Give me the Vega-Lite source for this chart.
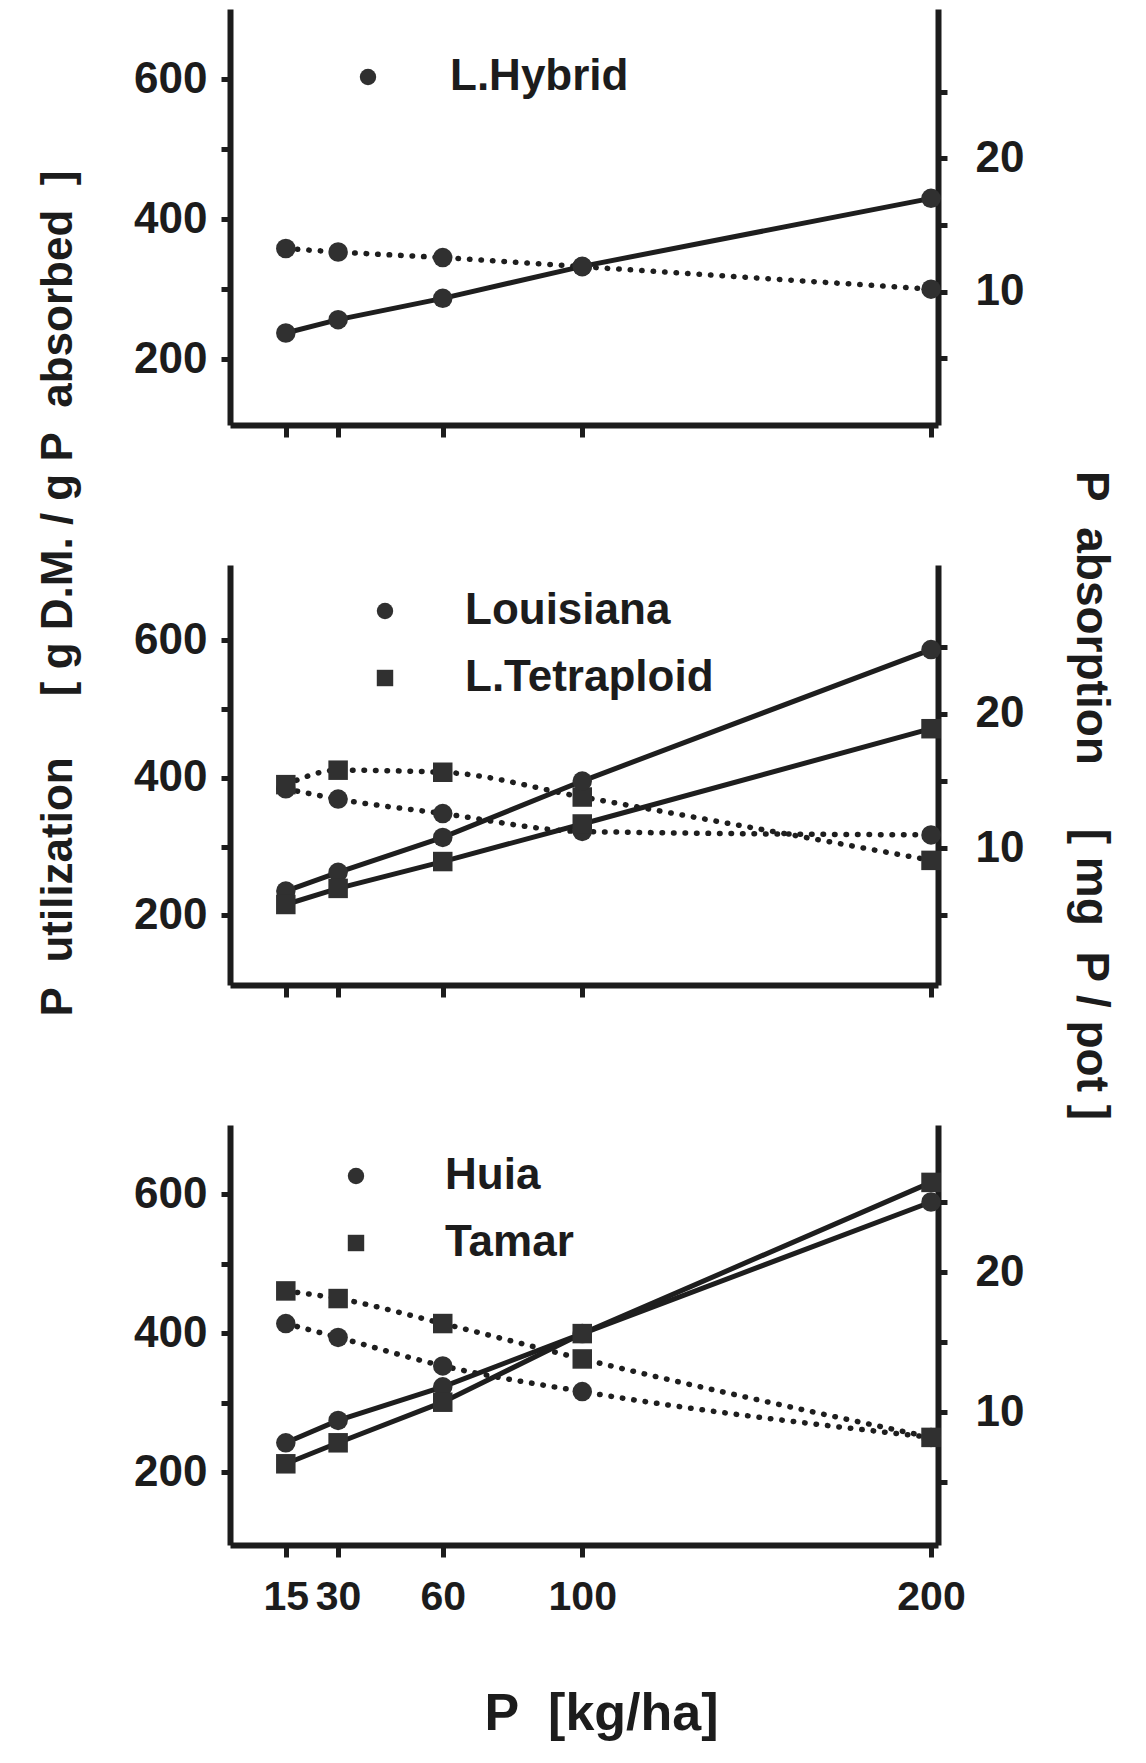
{
  "$schema": "https://vega.github.io/schema/vega-lite/v6.json",
  "background": "white",
  "padding": {"left": 35, "top": 9, "right": 10, "bottom": 10},
  "spacing": 140,
  "bounds": "flush",
  "config": {
    "view": {"stroke": null},
    "axis": {
      "grid": false,
      "labelFont": "Liberation Sans",
      "labelFontWeight": "bold",
      "labelFontSize": 44,
      "labelColor": "#1c1c1c",
      "labelOverlap": false,
      "domainColor": "#1c1c1c",
      "domainWidth": 6,
      "tickColor": "#1c1c1c",
      "tickWidth": 5,
      "tickSize": 9,
      "titleColor": "#1c1c1c",
      "titleFontWeight": "bold"
    },
    "legend": {
      "labelFont": "Liberation Sans",
      "labelFontWeight": "bold",
      "labelFontSize": 44,
      "labelColor": "#1c1c1c",
      "labelLimit": 0,
      "symbolSize": 270,
      "symbolFillColor": "#111111",
      "symbolStrokeWidth": 0,
      "labelOffset": 60,
      "rowPadding": 23
    }
  },
  "resolve": {"scale": {"shape": "independent"}, "legend": {"shape": "independent"}},
  "datasets": {
    "p1": [
      {"variety": "L.Hybrid", "P": 15, "util": 358, "abs": 6.9},
      {"variety": "L.Hybrid", "P": 30, "util": 353, "abs": 7.9},
      {"variety": "L.Hybrid", "P": 60, "util": 345, "abs": 9.5},
      {"variety": "L.Hybrid", "P": 100, "util": 332, "abs": 11.9},
      {"variety": "L.Hybrid", "P": 200, "util": 300, "abs": 17.0}
    ],
    "p2": [
      {"variety": "Louisiana", "P": 15, "util": 384, "abs": 6.8},
      {"variety": "Louisiana", "P": 30, "util": 369, "abs": 8.2},
      {"variety": "Louisiana", "P": 60, "util": 348, "abs": 10.8},
      {"variety": "Louisiana", "P": 100, "util": 322, "abs": 15.0},
      {"variety": "Louisiana", "P": 200, "util": 317, "abs": 24.8},
      {"variety": "L.Tetraploid", "P": 15, "util": 390, "abs": 5.8},
      {"variety": "L.Tetraploid", "P": 30, "util": 411, "abs": 7.0},
      {"variety": "L.Tetraploid", "P": 60, "util": 408, "abs": 9.0},
      {"variety": "L.Tetraploid", "P": 100, "util": 372, "abs": 11.8},
      {"variety": "L.Tetraploid", "P": 200, "util": 280, "abs": 18.9}
    ],
    "p3": [
      {"variety": "Huia", "P": 15, "util": 414, "abs": 7.8},
      {"variety": "Huia", "P": 30, "util": 394, "abs": 9.4},
      {"variety": "Huia", "P": 60, "util": 353, "abs": 11.8},
      {"variety": "Huia", "P": 100, "util": 316, "abs": 15.6},
      {"variety": "Huia", "P": 200, "util": 250, "abs": 25.0},
      {"variety": "Tamar", "P": 15, "util": 461, "abs": 6.3},
      {"variety": "Tamar", "P": 30, "util": 450, "abs": 7.8},
      {"variety": "Tamar", "P": 60, "util": 414, "abs": 10.7},
      {"variety": "Tamar", "P": 100, "util": 363, "abs": 15.6},
      {"variety": "Tamar", "P": 200, "util": 250, "abs": 26.4}
    ]
  },
  "vconcat": [
    {
      "width": 708, "height": 416,
      "data": {"name": "p1"},
      "layer": [
        {"layer": [
          {"mark": {"type": "line", "interpolate": "monotone", "strokeDash": [0.5, 11], "strokeCap": "round", "strokeWidth": 5.5, "color": "#1e1e1e"},
           "encoding": {
             "x": {"field": "P", "type": "quantitative", "scale": {"domain": [-1, 202], "nice": false, "zero": false}, "axis": {"values": [15, 30, 60, 100, 200], "labels": false, "title": null, "tickSize": 12}},
             "y": {"field": "util", "type": "quantitative", "scale": {"domain": [106, 700], "nice": false, "zero": false}, "axis": {"orient": "left", "values": [200, 300, 400, 500, 600], "labelExpr": "datum.value % 200 == 0 ? datum.label : ''", "title": null, "labelPadding": 14}},
             "detail": {"field": "variety"}}},
          {"mark": {"type": "point", "filled": true, "size": 380, "color": "#303030", "opacity": 1},
           "encoding": {
             "x": {"field": "P", "type": "quantitative"},
             "y": {"field": "util", "type": "quantitative"},
             "shape": {"field": "variety", "type": "nominal", "scale": {"domain": ["L.Hybrid"], "range": ["circle"]}, "legend": {"orient": "none", "legendX": 116, "legendY": 46, "title": null}}}}
        ]},
        {"layer": [
          {"mark": {"type": "line", "strokeWidth": 5, "color": "#1e1e1e"},
           "encoding": {
             "x": {"field": "P", "type": "quantitative"},
             "y": {"field": "abs", "type": "quantitative", "scale": {"domain": [0, 31.2], "nice": false, "zero": false}, "axis": {"orient": "right", "values": [5, 10, 15, 20, 25], "labelExpr": "datum.value % 10 == 0 ? datum.label : ''", "title": null, "labelPadding": 28}},
             "detail": {"field": "variety"}}},
          {"mark": {"type": "point", "filled": true, "size": 380, "color": "#303030", "opacity": 1},
           "encoding": {
             "x": {"field": "P", "type": "quantitative"},
             "y": {"field": "abs", "type": "quantitative"},
             "shape": {"field": "variety", "type": "nominal", "scale": {"domain": ["L.Hybrid"], "range": ["circle"]}, "legend": {"orient": "none", "legendX": 116, "legendY": 46, "title": null}}}}
        ]}
      ],
      "resolve": {"scale": {"y": "independent"}}
    },
    {
      "width": 708, "height": 420,
      "data": {"name": "p2"},
      "layer": [
        {"layer": [
          {"mark": {"type": "line", "interpolate": "monotone", "strokeDash": [0.5, 11], "strokeCap": "round", "strokeWidth": 5.5, "color": "#1e1e1e"},
           "encoding": {
             "x": {"field": "P", "type": "quantitative", "scale": {"domain": [-1, 202], "nice": false, "zero": false}, "axis": {"values": [15, 30, 60, 100, 200], "labels": false, "title": null, "tickSize": 12}},
             "y": {"field": "util", "type": "quantitative", "scale": {"domain": [99, 709], "nice": false, "zero": false}, "axis": {"orient": "left", "values": [200, 300, 400, 500, 600], "labelExpr": "datum.value % 200 == 0 ? datum.label : ''", "labelPadding": 14, "title": "P\u00a0\u00a0utilization\u00a0\u00a0\u00a0\u00a0\u00a0[\u00a0g\u00a0D.M.\u00a0/\u00a0g\u00a0P\u00a0\u00a0absorbed\u00a0\u00a0]", "titleFont": "Liberation Sans", "titleFontSize": 44, "titleAngle": 270, "titleAlign": "center", "titleBaseline": "middle", "titleX": -172, "titleY": 28}},
             "detail": {"field": "variety"}}},
          {"mark": {"type": "point", "filled": true, "size": 380, "color": "#303030", "opacity": 1},
           "encoding": {
             "x": {"field": "P", "type": "quantitative"},
             "y": {"field": "util", "type": "quantitative"},
             "shape": {"field": "variety", "type": "nominal", "scale": {"domain": ["Louisiana", "L.Tetraploid"], "range": ["circle", "square"]}, "legend": {"orient": "none", "legendX": 133, "legendY": 24, "title": null, "labelOffset": 58}}}}
        ]},
        {"layer": [
          {"mark": {"type": "line", "strokeWidth": 5, "color": "#1e1e1e"},
           "encoding": {
             "x": {"field": "P", "type": "quantitative"},
             "y": {"field": "abs", "type": "quantitative", "scale": {"domain": [-0.2, 31.1], "nice": false, "zero": false}, "axis": {"orient": "right", "values": [5, 10, 15, 20, 25], "labelExpr": "datum.value % 10 == 0 ? datum.label : ''", "labelPadding": 28, "title": "P\u00a0\u00a0absorption\u00a0\u00a0\u00a0\u00a0\u00a0[\u00a0mg\u00a0\u00a0P\u00a0/\u00a0pot\u00a0]", "titleFont": "Liberation Sans", "titleFontSize": 46, "titleAngle": 90, "titleAlign": "center", "titleBaseline": "middle", "titleX": 152, "titleY": 230}},
             "detail": {"field": "variety"}}},
          {"mark": {"type": "point", "filled": true, "size": 380, "color": "#303030", "opacity": 1},
           "encoding": {
             "x": {"field": "P", "type": "quantitative"},
             "y": {"field": "abs", "type": "quantitative"},
             "shape": {"field": "variety", "type": "nominal", "scale": {"domain": ["Louisiana", "L.Tetraploid"], "range": ["circle", "square"]}, "legend": {"orient": "none", "legendX": 133, "legendY": 24, "title": null, "labelOffset": 58}}}}
        ]}
      ],
      "resolve": {"scale": {"y": "independent"}}
    },
    {
      "width": 708, "height": 420,
      "data": {"name": "p3"},
      "layer": [
        {"layer": [
          {"mark": {"type": "line", "interpolate": "monotone", "strokeDash": [0.5, 11], "strokeCap": "round", "strokeWidth": 5.5, "color": "#1e1e1e"},
           "encoding": {
             "x": {"field": "P", "type": "quantitative", "scale": {"domain": [-1, 202], "nice": false, "zero": false}, "axis": {"values": [15, 30, 60, 100, 200], "labels": true, "labelFontSize": 41, "tickSize": 12, "labelPadding": 20, "title": "P\u00a0\u00a0[kg/ha]", "titleFont": "Liberation Sans", "titleFontSize": 52, "titleX": 371, "titleY": 168, "titleAlign": "center", "titleBaseline": "middle"}},
             "y": {"field": "util", "type": "quantitative", "scale": {"domain": [95, 700], "nice": false, "zero": false}, "axis": {"orient": "left", "values": [200, 300, 400, 500, 600], "labelExpr": "datum.value % 200 == 0 ? datum.label : ''", "title": null, "labelPadding": 14}},
             "detail": {"field": "variety"}}},
          {"mark": {"type": "point", "filled": true, "size": 380, "color": "#303030", "opacity": 1},
           "encoding": {
             "x": {"field": "P", "type": "quantitative"},
             "y": {"field": "util", "type": "quantitative"},
             "shape": {"field": "variety", "type": "nominal", "scale": {"domain": ["Huia", "Tamar"], "range": ["circle", "square"]}, "legend": {"orient": "none", "legendX": 104, "legendY": 29, "title": null, "labelOffset": 67}}}}
        ]},
        {"layer": [
          {"mark": {"type": "line", "strokeWidth": 5, "color": "#1e1e1e"},
           "encoding": {
             "x": {"field": "P", "type": "quantitative"},
             "y": {"field": "abs", "type": "quantitative", "scale": {"domain": [0.5, 30.5], "nice": false, "zero": false}, "axis": {"orient": "right", "values": [5, 10, 15, 20, 25], "labelExpr": "datum.value % 10 == 0 ? datum.label : ''", "title": null, "labelPadding": 28}},
             "detail": {"field": "variety"}}},
          {"mark": {"type": "point", "filled": true, "size": 380, "color": "#303030", "opacity": 1},
           "encoding": {
             "x": {"field": "P", "type": "quantitative"},
             "y": {"field": "abs", "type": "quantitative"},
             "shape": {"field": "variety", "type": "nominal", "scale": {"domain": ["Huia", "Tamar"], "range": ["circle", "square"]}, "legend": {"orient": "none", "legendX": 104, "legendY": 29, "title": null, "labelOffset": 67}}}}
        ]}
      ],
      "resolve": {"scale": {"y": "independent"}}
    }
  ]
}
